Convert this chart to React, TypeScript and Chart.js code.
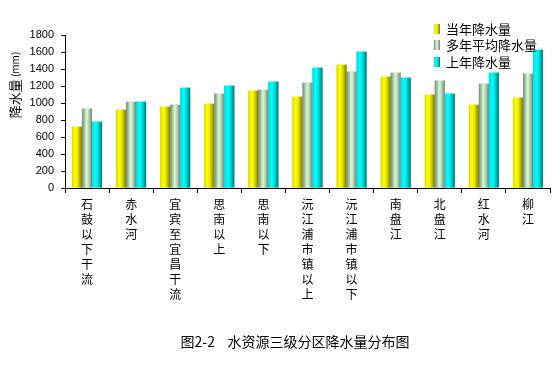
import React, { useEffect, useRef } from "react";
import { Chart, registerables } from "chart.js";

Chart.register(...registerables);

const categories = [
  "石鼓以下干流",
  "赤水河",
  "宜宾至宜昌干流",
  "思南以上",
  "思南以下",
  "沅江浦市镇以上",
  "沅江浦市镇以下",
  "南盘江",
  "北盘江",
  "红水河",
  "柳江",
];
const currentYear = [721, 921, 957, 992, 1145, 1075, 1451, 1310, 1098, 980, 1063];
const longTermAvg = [933, 1015, 980, 1110, 1157, 1239, 1369, 1357, 1263, 1227, 1345];
const lastYear = [780, 1015, 1180, 1204, 1251, 1416, 1604, 1298, 1110, 1357, 1627];
const seriesNames = ["当年降水量", "多年平均降水量", "上年降水量"];
const yTicks = [0, 200, 400, 600, 800, 1000, 1200, 1400, 1600, 1800];
const chartTitle = "图2-2    水资源三级分区降水量分布图";

const CJK = '"Noto Sans CJK SC", "Noto Sans", sans-serif';

const gradStops: [number, string][][] = [
  [[0, "#d8d800"], [0.3, "#ffff00"], [0.55, "#e8e800"], [1, "#7a7a00"]],
  [[0, "#808080"], [0.45, "#ccffcc"], [0.6, "#c0e8c0"], [1, "#7a7a7a"]],
  [[0, "#00d8d8"], [0.3, "#00ffff"], [0.55, "#00e8e8"], [1, "#007a7a"]],
];
const solid = ["#e6e600", "#b0d0b0", "#00dede"];

function makeGrad(ctx: CanvasRenderingContext2D, x0: number, x1: number, i: number) {
  const g = ctx.createLinearGradient(x0, 0, x1, 0);
  for (const [o, c] of gradStops[i]) g.addColorStop(o, c);
  return g;
}

const barShade = {
  id: "barShade",
  afterDatasetsDraw(chart: any) {
    const ctx = chart.ctx as CanvasRenderingContext2D;
    chart.data.datasets.forEach((_: any, di: number) => {
      const meta = chart.getDatasetMeta(di);
      meta.data.forEach((el: any) => {
        const { x, y, base, width } = el.getProps(["x", "y", "base", "width"], true);
        const x0 = x - width / 2;
        ctx.save();
        ctx.fillStyle = makeGrad(ctx, x0, x0 + width, di);
        ctx.fillRect(x0, y, width, base - y);
        ctx.restore();
      });
    });
  },
};

const extras = {
  id: "extras",
  afterDraw(chart: any) {
    const ctx = chart.ctx as CanvasRenderingContext2D;
    const area = chart.chartArea;
    // legend
    ctx.save();
    const lx = area.right - 116;
    const rows = [29, 45, 62];
    seriesNames.forEach((name, i) => {
      const cy = rows[i];
      ctx.fillStyle = makeGrad(ctx, lx, lx + 6, i);
      ctx.fillRect(lx, cy - 5, 6, 10);
      ctx.fillStyle = "#000";
      ctx.font = `13px ${CJK}`;
      ctx.textBaseline = "middle";
      ctx.textAlign = "left";
      ctx.fillText(name, lx + 12, cy);
    });
    ctx.restore();
    // y axis title
    ctx.save();
    ctx.translate(15, 85);
    ctx.rotate(-Math.PI / 2);
    ctx.fillStyle = "#000";
    ctx.textBaseline = "middle";
    const p1 = "降水量";
    const p2 = " (mm)";
    ctx.font = `13px ${CJK}`;
    const w1 = ctx.measureText(p1).width;
    ctx.font = `10px ${CJK}`;
    const w2 = ctx.measureText(p2).width;
    const start = -(w1 + w2) / 2;
    ctx.textAlign = "left";
    ctx.font = `13px ${CJK}`;
    ctx.fillText(p1, start, 0);
    ctx.font = `10px ${CJK}`;
    ctx.fillText(p2, start + w1, 0);
    ctx.restore();
    // chart title at bottom
    ctx.save();
    ctx.fillStyle = "#000";
    ctx.font = `14px ${CJK}`;
    ctx.textAlign = "center";
    ctx.textBaseline = "middle";
    ctx.fillText(chartTitle, 295, 342);
    ctx.restore();
  },
};

export default function App() {
  const ref = useRef<HTMLCanvasElement>(null);
  useEffect(() => {
    if (!ref.current) return;
    const chart = new Chart(ref.current, {
      type: "bar",
      data: {
        labels: categories.map((c) => Array.from(c)),
        datasets: [
          { label: seriesNames[0], data: currentYear, backgroundColor: solid[0] },
          { label: seriesNames[1], data: longTermAvg, backgroundColor: solid[1] },
          { label: seriesNames[2], data: lastYear, backgroundColor: solid[2] },
        ],
      },
      options: {
        animation: false,
        responsive: false,
        maintainAspectRatio: false,
        devicePixelRatio: 1,
        layout: { padding: { left: 0, right: 5, top: 35, bottom: 50 } },
        datasets: {
          bar: { categoryPercentage: 0.68, barPercentage: 1.0 },
        },
        plugins: {
          legend: { display: false },
          tooltip: { enabled: false },
          title: { display: false },
        },
        scales: {
          x: {
            offset: true,
            grid: {
              offset: true,
              drawOnChartArea: false,
              drawTicks: true,
              tickLength: 5,
              color: "#000",
            },
            border: { color: "#000", width: 1 },
            ticks: {
              color: "#000",
              maxRotation: 0,
              minRotation: 0,
              autoSkip: false,
              padding: 4,
              font: { family: CJK, size: 12, lineHeight: 1.25 },
            },
            afterFit(scale: any) {
              scale.height = 130;
            },
          },
          y: {
            min: 0,
            max: 1800,
            afterBuildTicks(scale: any) {
              scale.ticks = yTicks.map((v) => ({ value: v }));
            },
            grid: {
              drawOnChartArea: false,
              drawTicks: true,
              tickLength: 4,
              color: "#000",
            },
            border: { color: "#000", width: 1 },
            ticks: {
              color: "#000",
              padding: 7,
              callback: (v: any) => String(v),
              font: { family: '"Liberation Sans", Arial, sans-serif', size: 11 },
            },
            afterFit(scale: any) {
              scale.width = 65;
            },
          },
        },
      },
      plugins: [barShade, extras],
    });
    return () => chart.destroy();
  }, []);
  return (
    <div style={{ position: "fixed", left: 0, top: 0, width: 555, height: 368, background: "#fff" }}>
      <canvas ref={ref} width={555} height={368} style={{ width: 555, height: 368, display: "block" }} />
    </div>
  );
}
